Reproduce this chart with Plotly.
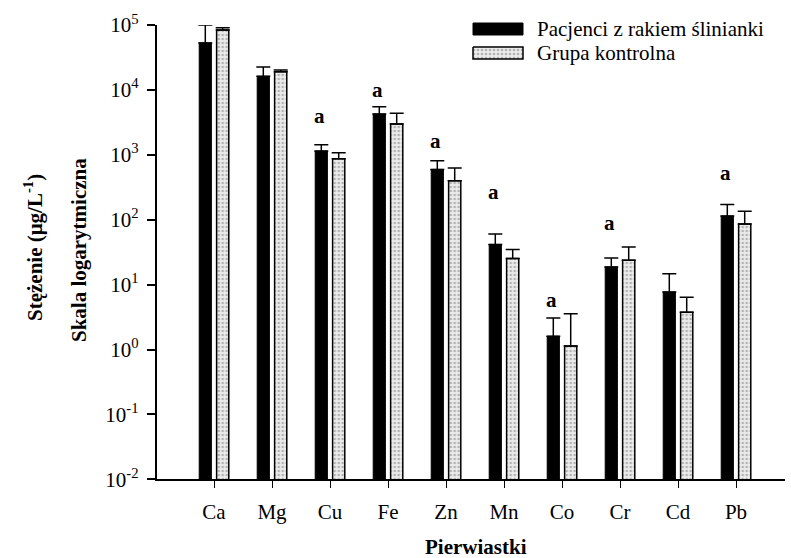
import math
import plotly.graph_objects as go

# ---------------- data ----------------
elements = ["Ca", "Mg", "Cu", "Fe", "Zn", "Mn", "Co", "Cr", "Cd", "Pb"]
patients = [53000, 16200, 1140, 4250, 596, 41.6, 1.60, 18.7, 7.7, 114]
patients_sd = [47000, 6300, 290, 1250, 213, 18.4, 1.47, 7.1, 7.0, 58]
controls = [83800, 19000, 870, 2980, 398, 25.3, 1.13, 23.8, 3.76, 85.5]
controls_sd = [7200, 1200, 205, 1375, 226, 9.5, 2.41, 14.0, 2.64, 49.5]
sig_label = ["", "", "a", "a", "a", "a", "a", "a", "", "a"]
sig_level = [None, None, 3950, 10000, 1645, 269, 5.75, 88.5, None, 522]
y_tickvals = [1e-2, 1e-1, 1e0, 1e1, 1e2, 1e3, 1e4, 1e5]
y_ticktext = ["10<sup>-2</sup>", "10<sup>-1</sup>", "10<sup>0</sup>", "10<sup>1</sup>",
              "10<sup>2</sup>", "10<sup>3</sup>", "10<sup>4</sup>", "10<sup>5</sup>"]
series_names = ["Pacjenci z rakiem ślinianki", "Grupa kontrolna"]

# ---------------- layout geometry (pixels) ----------------
W, H = 791, 558
L, R, T, B = 156.7, 785.0, 25.0, 479.3
FONT = "Liberation Serif"
FS = 21

def px(x):
    return x / W

def py(y):
    return 1 - y / H

fig = go.Figure()

fig.add_trace(go.Bar(
    x=elements, y=patients, name=series_names[0], showlegend=False,
    marker=dict(color="black", line=dict(color="black", width=1)),
    error_y=dict(type="data", symmetric=False, array=patients_sd,
                 arrayminus=[0] * len(patients), color="black", thickness=1.5, width=7),
))
fig.add_trace(go.Bar(
    x=elements, y=controls, name=series_names[1], showlegend=False,
    marker=dict(color="#e6e6e6", line=dict(color="black", width=1.5),
                pattern=dict(shape=".", fgcolor="#7a7a7a", bgcolor="#ececec",
                             size=4, solidity=0.35, fillmode="overlay")),
    error_y=dict(type="data", symmetric=False, array=controls_sd,
                 arrayminus=[0] * len(controls), color="black", thickness=1.5, width=7),
))

# legend swatches drawn on an invisible pixel-space overlay axis
sw_x0, sw_x1 = 473, 523
fig.add_trace(go.Scatter(
    x=[sw_x0, sw_x1, sw_x1, sw_x0, sw_x0], y=[23, 23, 35, 35, 23],
    xaxis="x2", yaxis="y2", mode="lines", fill="toself", fillcolor="black",
    line=dict(color="black", width=1), showlegend=False, hoverinfo="skip"))
fig.add_trace(go.Scatter(
    x=[sw_x0, sw_x1, sw_x1, sw_x0, sw_x0], y=[47, 47, 59, 59, 47],
    xaxis="x2", yaxis="y2", mode="lines", fill="toself", fillcolor="#ececec",
    fillpattern=dict(shape=".", fgcolor="#7a7a7a", bgcolor="#ececec", size=4,
                     solidity=0.35, fillmode="overlay"),
    line=dict(color="black", width=1.5), showlegend=False, hoverinfo="skip"))

annotations = []
for i, (lab, lvl) in enumerate(zip(sig_label, sig_level)):
    if lab:
        annotations.append(dict(
            x=i - 0.18, y=math.log10(lvl), xref="x", yref="y", text="<b>%s</b>" % lab,
            showarrow=False, font=dict(family=FONT, size=FS, color="black"),
            xanchor="center", yanchor="middle"))

# legend texts
for name, yy in zip(series_names, [29, 53]):
    annotations.append(dict(
        x=px(535), y=py(yy), xref="paper", yref="paper", text=name, showarrow=False,
        xanchor="left", yanchor="middle", font=dict(family=FONT, size=FS, color="black")))

# axis titles
annotations.append(dict(
    x=px(33), y=py(248), xref="paper", yref="paper",
    text="<b>Stężenie (μg/L<sup>-1</sup>)</b>", textangle=-90, showarrow=False,
    xanchor="center", yanchor="middle", font=dict(family=FONT, size=FS, color="black")))
annotations.append(dict(
    x=px(79), y=py(250), xref="paper", yref="paper",
    text="<b>Skala logarytmiczna</b>", textangle=-90, showarrow=False,
    xanchor="center", yanchor="middle", font=dict(family=FONT, size=FS, color="black")))
annotations.append(dict(
    x=px(476), y=py(547), xref="paper", yref="paper",
    text="<b>Pierwiastki</b>", showarrow=False,
    xanchor="center", yanchor="middle", font=dict(family=FONT, size=FS, color="black")))

step = 58.0
cat0 = 214.0
fig.update_layout(
    width=W, height=H, autosize=False,
    margin=dict(l=0, r=0, t=0, b=0, pad=0, autoexpand=False),
    paper_bgcolor="white", plot_bgcolor="rgba(0,0,0,0)",
    barmode="group", bargap=0.40, bargroupgap=0.30,
    showlegend=False,
    font=dict(family=FONT, size=FS, color="black"),
    xaxis=dict(domain=[px(L), px(R)], range=[(L - cat0) / step, (R - cat0) / step],
               type="category", showline=True, linecolor="black", linewidth=1.5,
               ticks="outside", ticklen=7, tickwidth=1, tickcolor="black",
               showgrid=False, zeroline=False, anchor="y", automargin=False,
               ticklabelstandoff=6,
               tickfont=dict(family=FONT, size=FS, color="black")),
    yaxis=dict(domain=[py(B), py(T)], type="log", range=[-2, 5],
               tickvals=y_tickvals, ticktext=y_ticktext,
               showline=True, linecolor="black", linewidth=2,
               ticks="outside", ticklen=8, tickwidth=1.5, tickcolor="black",
               showgrid=False, zeroline=False, anchor="x", automargin=False,
               ticklabelstandoff=4,
               tickfont=dict(family=FONT, size=FS, color="black")),
    xaxis2=dict(domain=[0, 1], range=[0, W], visible=False, anchor="y2",
                fixedrange=True, automargin=False),
    yaxis2=dict(domain=[0, 1], range=[H, 0], visible=False, anchor="x2",
                fixedrange=True, automargin=False),
    annotations=annotations,
)

fig.write_html("out.html")
